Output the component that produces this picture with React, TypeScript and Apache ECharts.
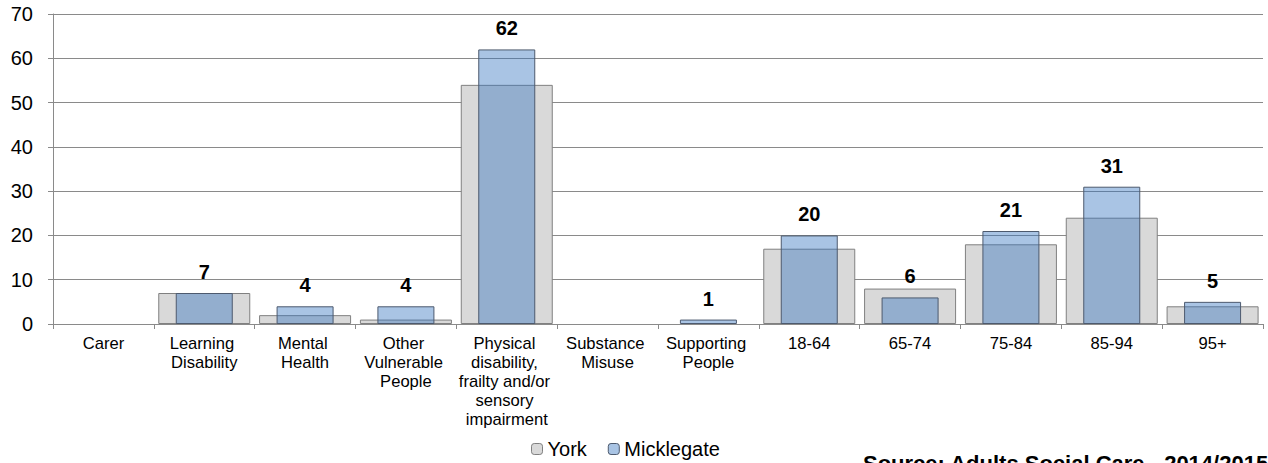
import React, { useEffect, useRef } from "react";
import * as echarts from "echarts";

const categories = [
  "Carer",
  "Learning Disability",
  "Mental Health",
  "Other Vulnerable People",
  "Physical disability, frailty and/or sensory impairment",
  "Substance Misuse",
  "Supporting People",
  "18-64",
  "65-74",
  "75-84",
  "85-94",
  "95+",
];
const yorkValues = [0, 7, 2, 1, 54, 0, 0, 17, 8, 18, 24, 4];
const micklegateValues = [0, 7, 4, 4, 62, 0, 1, 20, 6, 21, 31, 5];
const seriesNames = ["York", "Micklegate"];
const sourceText = "Source: Adults Social Care - 2014/2015";

const FONT = "'Liberation Sans', Arial, Helvetica, sans-serif";
const GRID_COLOR = "#8a8a8a";

const hideZero = (arr: number[]) => arr.map((v) => (v === 0 ? "-" : v));

export default function App() {
  const ref = useRef<HTMLDivElement>(null);
  useEffect(() => {
    if (!ref.current) return;
    const chart = echarts.init(ref.current, undefined, { renderer: "svg" });
    chart.setOption({
      animation: false,
      textStyle: { fontFamily: FONT },
      grid: { left: 53, right: 5, top: 14, bottom: 139, containLabel: false },
      legend: {
        data: seriesNames,
        left: 526,
        top: 434,
        itemWidth: 11,
        itemHeight: 11,
        itemGap: 21,
        itemStyle: { borderWidth: 1 },
        textStyle: { fontSize: 20, color: "#000", fontFamily: FONT },
      },
      xAxis: [
        {
          type: "category",
          data: categories,
          axisLine: { show: true, lineStyle: { color: GRID_COLOR } },
          axisTick: { show: true, length: 5, lineStyle: { color: GRID_COLOR } },
          axisLabel: {
            interval: 0,
            margin: 10,
            fontSize: 16.6,
            lineHeight: 19,
            color: "#000",
            fontFamily: FONT,
            width: 98,
            overflow: "break",
          },
        },
        {
          type: "category",
          data: categories,
          show: false,
          position: "bottom",
        },
      ],
      yAxis: {
        type: "value",
        min: 0,
        max: 70,
        interval: 10,
        axisLine: { show: true, lineStyle: { color: GRID_COLOR } },
        axisTick: { show: true, length: 5, lineStyle: { color: GRID_COLOR } },
        axisLabel: { fontSize: 20, color: "#000", margin: 20, fontFamily: FONT },
        splitLine: { show: true, lineStyle: { color: GRID_COLOR } },
      },
      series: [
        {
          name: seriesNames[0],
          type: "bar",
          xAxisIndex: 0,
          data: hideZero(yorkValues),
          barWidth: 92,
          z: 2,
          itemStyle: { color: "#D9D9D9", borderColor: "#808080", borderWidth: 1 },
        },
        {
          name: seriesNames[1],
          type: "bar",
          xAxisIndex: 1,
          data: hideZero(micklegateValues),
          barWidth: 57,
          z: 3,
          itemStyle: {
            color: "rgba(50,114,190,0.42)",
            borderColor: "#4d5a6e",
            borderWidth: 1,
          },
          label: {
            show: true,
            position: "top",
            distance: 11,
            fontSize: 20,
            fontWeight: "bold",
            color: "#000",
            fontFamily: FONT,
          },
        },
      ],
      graphic: [
        {
          type: "text",
          left: 863,
          top: 452,
          style: {
            text: sourceText,
            fontSize: 22,
            fontWeight: "bold",
            fill: "#000",
            fontFamily: FONT,
          },
        },
      ],
    });
    return () => chart.dispose();
  }, []);
  return (
    <div
      ref={ref}
      style={{ position: "absolute", left: 0, top: 0, width: 1268, height: 463 }}
    />
  );
}
